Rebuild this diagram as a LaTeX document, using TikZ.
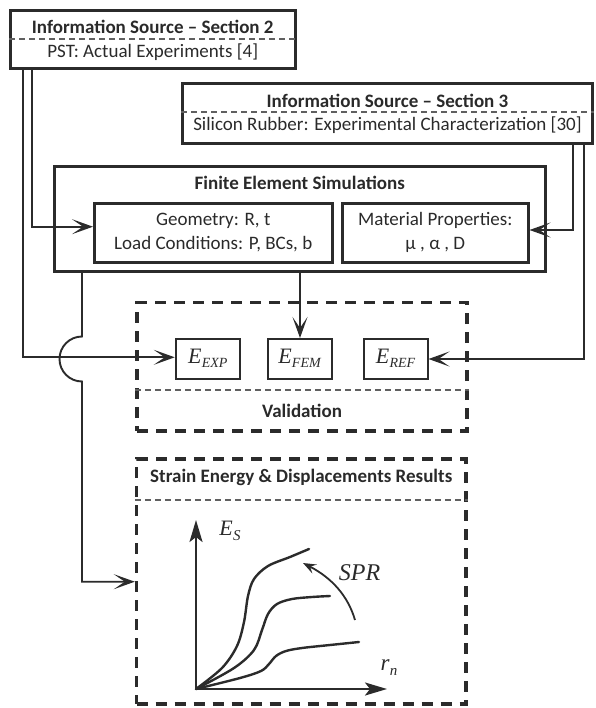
\documentclass[tikz,border=0pt]{standalone}
\usepackage{fontspec}
\setmainfont{Carlito}
\newfontfamily\mathserif{Liberation Serif}
\usetikzlibrary{arrows.meta}
\definecolor{ink}{HTML}{2B2B2B}
\definecolor{txt}{HTML}{2A2A2A}
\newcommand{\evar}[1]{{\mathserif\itshape\fontsize{22}{24}\selectfont E\kern0.3pt\raisebox{-4pt}{\fontsize{14}{15}\selectfont #1}}}
\tikzset{
  heavybox/.style={draw=ink, line width=3pt, minimum width=#1, inner sep=0pt},
  ebox/.style={draw=ink, line width=2pt, inner sep=0pt, minimum width=64pt, minimum height=39.5pt},
  dbox/.style={draw=ink, line width=3.4pt, dash pattern=on 11pt off 8pt, inner sep=0pt},
  sepline/.style={draw=ink!75, line width=1.2pt, dash pattern=on 6pt off 4pt},
  conn/.style={draw=ink, line width=1.9pt},
  tip/.style={-{Stealth[length=21pt,width=15pt,inset=11pt]}},
  ttl/.style={font=\bfseries\fontsize{19}{21}\selectfont, text=txt, inner sep=0pt},
  sub/.style={font=\fontsize{19}{21}\selectfont, text=txt, inner sep=0pt},
  mth/.style={text=txt, inner sep=0pt},
  glab/.style={font=\mathserif\itshape\fontsize{23}{25}\selectfont, text=txt, inner sep=0pt},
  curve/.style={draw=ink, line width=2.4pt, line cap=round},
}
\begin{document}
\begin{tikzpicture}[x=1pt,y=-1pt]
\useasboundingbox (0,0) rectangle (595,708);
% source boxes
\node[heavybox=284.5pt, minimum height=58.5pt] (s2) at (152.75,39.75) {};
\node[ttl] (s2t) at (152.75,27) {Information Source -- Section 2};
\node[sub] (s2s) at (152.75,52.5) {PST: Actual Experiments [4]};
\draw[sepline] (s2.west |- 0,39) -- (s2.east |- 0,39);
\node[heavybox=410pt, minimum height=60pt] (s3) at (387.5,113.5) {};
\node[ttl] (s3t) at (387.5,101) {Information Source -- Section 3};
\node[sub] (s3s) at (387.5,125.5) {Silicon Rubber: Experimental Characterization [30]};
\draw[sepline] (s3.west |- 0,112) -- (s3.east |- 0,112);
% FE box
\node[heavybox=490.5pt, minimum height=105pt] (fe) at (299.75,219) {};
\node[ttl] (fet) at (299.75,183) {Finite Element Simulations};
\node[heavybox=237.5pt, minimum height=58.5pt, sub, align=center, font=\fontsize{19}{24}\selectfont] (geo) at (213.25,232.75) {Geometry: R, t\\Load Conditions: P, BCs, b};
\node[heavybox=185.5pt, minimum height=58.5pt, sub, align=center, font=\fontsize{19}{24}\selectfont] (mat) at (435.25,232.75) {Material Properties:\\μ , α , D};
% validation
\node[dbox, minimum width=330pt, minimum height=128.5pt] (val) at (302,366.75) {};
\draw[sepline] (val.west |- 0,390) -- (val.east |- 0,390);
\node[ttl] (valt) at (302,411) {Validation};
\node[ebox, mth] (eexp) at (207.75,358.75) {\evar{EXP}};
\node[ebox, mth] (efem) at (299.5,358.75) {\evar{FEM}};
\node[ebox, mth] (eref) at (395.5,358.75) {\evar{REF}};
% results
\node[dbox, minimum width=329.5pt, minimum height=245pt] (res) at (301.25,581.5) {};
\draw[sepline] (res.west |- 0,500) -- (res.east |- 0,500);
\node[ttl] (rest) at (301.25,477) {Strain Energy \& Displacements Results};
% connectors
\coordinate (b1) at (32,226.7);
\coordinate (b2) at (22.7,357.3);
\coordinate (b3) at (573,230);
\coordinate (b4) at (584,359);
\coordinate (j1) at (82,336.5);
\coordinate (j2) at (82,581.7);
\coordinate (f1) at (300,0);
\draw[conn, tip] (s2.south -| b1) -- (b1) -- (geo.west |- b1);
\draw[conn, tip] (s2.south -| b2) -- (b2) -- (eexp.west |- b2);
\draw[conn, tip] (s3.south -| b3) -- (b3) -- (mat.east |- b3);
\draw[conn, tip] (s3.south -| b4) -- (b4) -- (eref.east |- b4);
\draw[conn, tip] (fe.south -| f1) -- (efem.north -| f1);
\draw[conn, tip] (fe.south -| j1) -- (j1) arc[start angle=270, end angle=90, radius=22.5] -- (j2) -- (res.west |- j2);
% graph
\coordinate (o) at (196,689);
\coordinate (ytop) at (196,520);
\coordinate (xend) at (387,689);
\draw[curve, -{Stealth[length=22pt,width=13pt,inset=5pt]}] (o) -- (ytop);
\draw[curve, -{Stealth[length=22pt,width=13pt,inset=5pt]}] (o) -- (xend);
\node[glab, font=\mathserif\itshape\fontsize{22}{24}\selectfont] (es) at (230,531) {E\kern0.5pt\raisebox{-5pt}{\fontsize{15}{16}\selectfont S}};
\node[glab, font=\mathserif\itshape\fontsize{24}{26}\selectfont] (spr) at (359.5,573) {SPR};
\node[glab] (rn) at (389,668) {r\kern0.5pt\raisebox{-5pt}{\fontsize{15}{16}\selectfont n}};
\draw[curve] plot[smooth, tension=0.55] coordinates {(196,689) (222,668) (237,646) (244,622) (248,596) (254,579) (268,566) (290,557) (309,549)};
\draw[curve] plot[smooth, tension=0.55] coordinates {(196,689) (234,668) (254,650) (262,630) (268,614) (277,604) (292,599) (312,597) (330,596)};
\draw[curve] plot[smooth, tension=0.55] coordinates {(196,689) (240,678) (261,671) (269,664) (276,656) (286,651) (302,648) (330,645) (359,642)};
\draw[draw=ink, line width=1.8pt, -{Stealth[length=13pt,width=10pt,inset=5pt]}] (355,620) .. controls (348,596) and (332,578) .. (303,563);
\end{tikzpicture}
\end{document}
